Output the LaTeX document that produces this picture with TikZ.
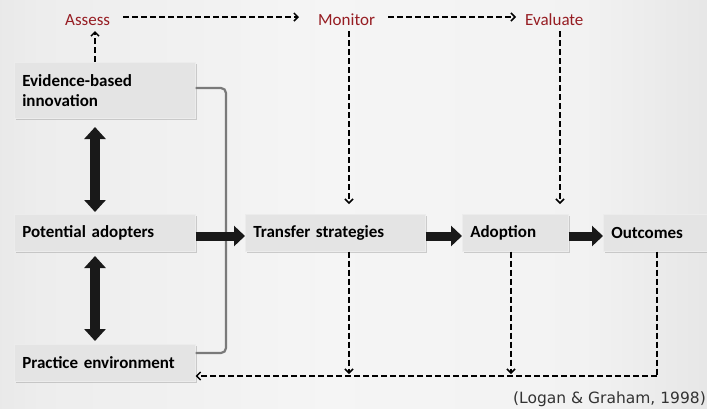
\documentclass[tikz,border=0pt]{standalone}
\usepackage{fontspec}
\setmainfont{Carlito}
\newfontfamily\citefont{DejaVu Sans}
\usetikzlibrary{arrows.meta,shadows,calc}
\definecolor{lblred}{HTML}{961C22}
\definecolor{boxfill}{HTML}{E4E4E4}
\pgfdeclarehorizontalshading{bgshade}{100bp}{color(0bp)=(black!40); color(6bp)=(black!26); color(14bp)=(black!14); color(28bp)=(black!7); color(48bp)=(black!4); color(66bp)=(black!5); color(80bp)=(black!12); color(90bp)=(black!23); color(100bp)=(black!33)}
\tikzset{
  box/.style={fill=boxfill, draw=white!85!gray, line width=0.6pt,
    drop shadow={opacity=0.35, shadow xshift=1.5pt, shadow yshift=-2pt},
    anchor=north west, inner sep=0pt, align=left,
    font=\fontsize{17}{20}\selectfont\bfseries},
  lbl/.style={text=lblred, font=\fontsize{17}{20}\selectfont, inner sep=0pt, anchor=west},
  dsh/.style={dash pattern=on 6pt off 3pt, line width=1.5pt, black},
  dsharrow/.style={dsh, -{Straight Barb[length=4pt,width=8pt,line width=1.5pt]}},
  fat/.style={line width=9pt, draw=black!90, -{Triangle[length=11pt,width=20pt]}},
  fatboth/.style={line width=10pt, draw=black!90, {Triangle[length=12pt,width=21pt]}-{Triangle[length=12pt,width=21pt]}},
}
\begin{document}
\begin{tikzpicture}[x=1pt,y=-1pt]
\useasboundingbox (0,0) rectangle (707,408);
\begin{scope}[y=1pt]
\shade[shading=bgshade] (0,0) rectangle (707,-408);
\end{scope}

% boxes
\node[box, minimum width=181pt, minimum height=56pt, text width=181pt] (evi) at (14,62) {\hspace*{8pt}Evidence-based\\\hspace*{8pt}innovation};
\node[box, minimum width=181pt, minimum height=37pt, text width=181pt] (pot) at (14,214) {\hspace*{8pt}Potential adopters};
\node[box, minimum width=181pt, minimum height=37pt, text width=181pt] (pra) at (14,344) {\hspace*{8pt}Practice environment};
\node[box, minimum width=180pt, minimum height=37pt, text width=180pt] (tra) at (245,214) {\hspace*{8pt}Transfer strategies};
\node[box, minimum width=106pt, minimum height=37pt, text width=106pt] (ado) at (462,214) {\hspace*{8pt}Adoption};
\node[box, minimum width=106pt, minimum height=37pt, text width=106pt] (out) at (603,214) {\hspace*{8pt}Outcomes};

% labels
\node[lbl] (ass) at (65,20) {Assess};
\node[lbl] (mon) at (318,20) {Monitor};
\node[lbl] (eva) at (525,20) {Evaluate};

% gray bracket
\draw[line width=2.2pt, black!52, rounded corners=5pt] (evi.east |- 0,88) -- (226,88) -- (226,353) -- (pra.east |- 0,353);

% fat arrows
\draw[fatboth] (95,127) -- (95,212);
\draw[fatboth] (95,256) -- (95,341);
\draw[fat] (pot.east |- 0,236) -- (tra.west |- 0,236);
\draw[fat] (tra.east |- 0,236) -- (ado.west |- 0,236);
\draw[fat] (ado.east |- 0,236) -- (out.west |- 0,236);

% dashed arrows top
\draw[dsharrow] (evi.north -| 95,0) -- (95,31);
\draw[dsharrow] ($(ass.east)+(13,-3)$) -- ($(mon.west)+(-19,-3)$);
\draw[dsharrow] ($(mon.east)+(13,-3)$) -- ($(eva.west)+(-9,-3)$);
\draw[dsharrow] (349,31) -- (349,204);
\draw[dsharrow] (560,31) -- (560,204);

% bottom feedback
\coordinate (corner) at (657,376);
\draw[dsh] (out.south -| corner) -- (corner);
\draw[dsharrow] (corner) -- (pra.east |- corner);
\draw[dsharrow] (tra.south -| 349,0) -- (349,374);
\draw[dsharrow] (ado.south -| 511,0) -- (511,374);

% citation
\node[anchor=east, inner sep=0pt, font=\citefont\fontsize{15.5}{18}\selectfont, text=black!80] (cit) at (706,399) {(Logan \& Graham, 1998)};
\end{tikzpicture}
\end{document}
